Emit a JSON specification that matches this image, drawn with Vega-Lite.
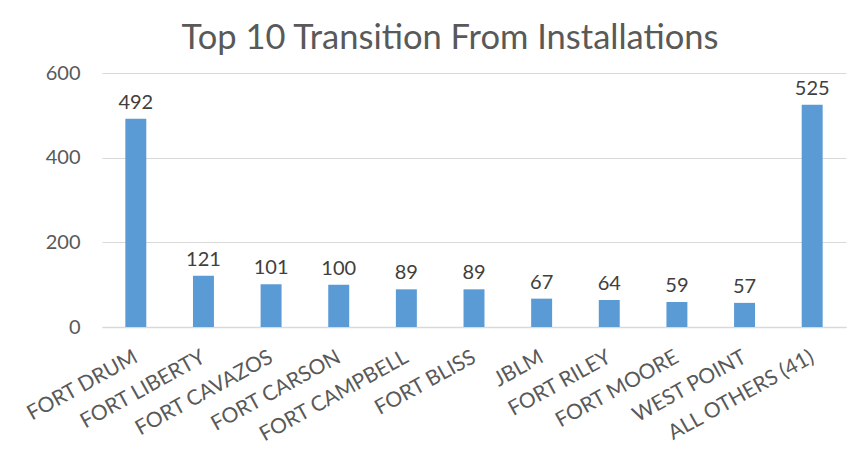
{
  "$schema": "https://vega.github.io/schema/vega-lite/v6.json",
  "width": 744,
  "height": 254,
  "autosize": {"type": "none"},
  "padding": {"left": 102, "top": 73, "right": 8, "bottom": 128},
  "background": "white",
  "title": {
    "text": "Top 10 Transition From Installations",
    "font": "Lato",
    "fontSize": 34.5,
    "fontWeight": "normal",
    "color": "#595959",
    "anchor": "middle",
    "baseline": "alphabetic",
    "offset": -20,
    "dx": -24
  },
  "data": {
    "values": [
      {"installation": "FORT DRUM", "count": 492},
      {"installation": "FORT LIBERTY", "count": 121},
      {"installation": "FORT CAVAZOS", "count": 101},
      {"installation": "FORT CARSON", "count": 100},
      {"installation": "FORT CAMPBELL", "count": 89},
      {"installation": "FORT BLISS", "count": 89},
      {"installation": "JBLM", "count": 67},
      {"installation": "FORT RILEY", "count": 64},
      {"installation": "FORT MOORE", "count": 59},
      {"installation": "WEST POINT", "count": 57},
      {"installation": "ALL OTHERS (41)", "count": 525}
    ]
  },
  "encoding": {
    "x": {
      "field": "installation",
      "type": "nominal",
      "sort": null,
      "scale": {"paddingInner": 0.69, "paddingOuter": 0.345},
      "axis": {
        "title": null,
        "labelAngle": -29,
        "labelFont": "Lato",
        "labelFontSize": 21,
        "labelColor": "#595959",
        "labelPadding": 19,
        "labelOffset": -5,
        "ticks": false,
        "domainColor": "#d9d9d9",
        "domainWidth": 1.5
      }
    },
    "y": {
      "field": "count",
      "type": "quantitative",
      "scale": {"domain": [0, 600]},
      "axis": {
        "title": null,
        "values": [0, 200, 400, 600],
        "labelFont": "Lato",
        "labelFontSize": 20,
        "labelColor": "#595959",
        "labelPadding": 22,
        "ticks": false,
        "domain": false,
        "gridColor": "#d9d9d9",
        "gridWidth": 1.2
      }
    }
  },
  "layer": [
    {"mark": {"type": "bar", "color": "#5b9bd5"}},
    {
      "mark": {
        "type": "text",
        "baseline": "bottom",
        "dy": -6,
        "font": "Lato",
        "fontSize": 20,
        "color": "#404040"
      },
      "encoding": {"text": {"field": "count", "type": "quantitative"}}
    }
  ],
  "config": {"view": {"stroke": null}}
}
